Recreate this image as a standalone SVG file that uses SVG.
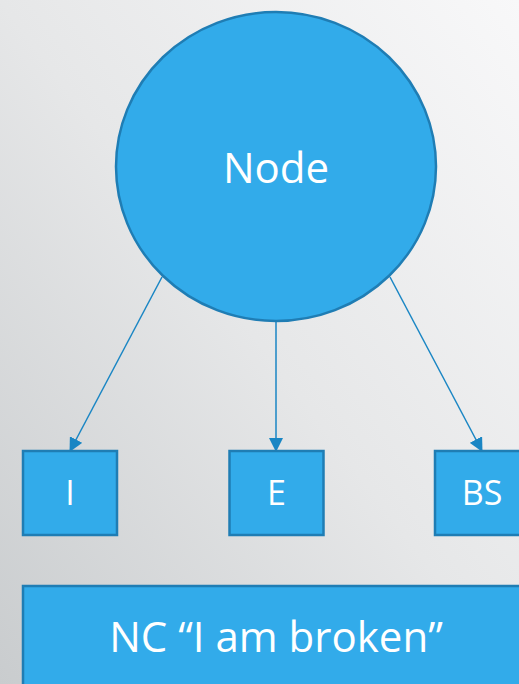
<svg xmlns="http://www.w3.org/2000/svg" width="519" height="684" viewBox="0 0 519 684">
<defs>
<linearGradient id="bg" x1="1" y1="0" x2="0" y2="1">
<stop offset="0" stop-color="#f8f8f9"/>
<stop offset="0.5" stop-color="#e6e7e8"/>
<stop offset="1" stop-color="#c9ccce"/>
</linearGradient>
<marker id="arr" markerUnits="userSpaceOnUse" markerWidth="14" markerHeight="14" viewBox="0 0 14 14" refX="13" refY="7" orient="auto">
<path d="M0,0 L14,7 L0,14 Z" fill="#1a86c4"/>
</marker>
<style>
.shape{fill:#32abea;stroke:#1f7db4;stroke-width:2.5}
.lbl{font-family:"Open Sans","Noto Sans",sans-serif;fill:#ffffff;text-anchor:middle}
.edge{stroke:#1a86c4;stroke-width:1.5;fill:none;marker-end:url(#arr)}
</style>
</defs>
<rect width="519" height="684" fill="url(#bg)"/>
<g id="connectors">
<line class="edge" x1="162" y1="277" x2="70" y2="451"/>
<line class="edge" x1="276" y1="322" x2="276" y2="451"/>
<line class="edge" x1="390" y1="277" x2="482" y2="451"/>
</g>
<g id="node-main">
<ellipse class="shape" cx="276" cy="166.5" rx="160" ry="154.5"/>
<text class="lbl" x="276" y="183" font-size="42">Node</text>
</g>
<g id="node-i">
<rect class="shape" x="23" y="451" width="94" height="84"/>
<text class="lbl" x="70" y="505" font-size="34">I</text>
</g>
<g id="node-e">
<rect class="shape" x="229.5" y="451" width="94" height="84"/>
<text class="lbl" x="276.5" y="505" font-size="34">E</text>
</g>
<g id="node-bs">
<rect class="shape" x="435" y="451" width="94" height="84"/>
<text class="lbl" x="482" y="505" font-size="34">BS</text>
</g>
<g id="node-nc">
<rect class="shape" x="23" y="586" width="510" height="110"/>
<text class="lbl" x="276" y="652" font-size="42">NC “I am broken”</text>
</g>
</svg>
